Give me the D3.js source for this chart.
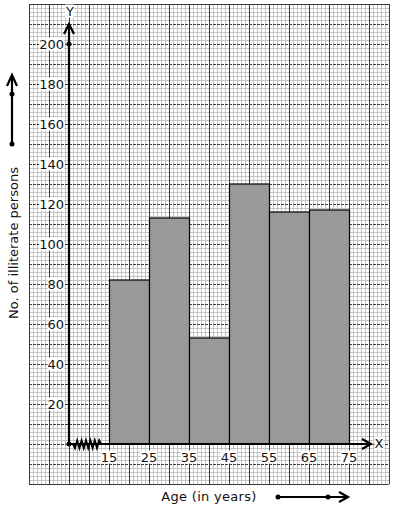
<!DOCTYPE html>
<html lang="en">
<head>
  <meta charset="UTF-8" />
  <title>Histogram: illiterate persons by age</title>
  <style>
    body { margin: 0; background: #fff; }
    svg { display: block; font-family: "DejaVu Sans", sans-serif; }
  </style>
</head>
<body>
  <svg id="chart" width="394" height="510"></svg>

  <script src="https://d3js.org/d3.v7.min.js"></script>
  <script>
    // class intervals (age in years) and counts
    const ageStarts = [15, 25, 35, 45, 55, 65];
    const ageEnds = [25, 35, 45, 55, 65, 75];
    const counts = [82, 113, 53, 130, 116, 117];
    const xTicks = [15, 25, 35, 45, 55, 65, 75];
    const yTicks = [20, 40, 60, 80, 100, 120, 140, 160, 180, 200];

    const svg = d3.select("#chart");

    // origin sits at age 5 on the paper (axis is broken before 15)
    const x = d3.scaleLinear().domain([5, 75]).range([69, 349]);
    const y = d3.scaleLinear().domain([0, 200]).range([444, 44]);

    const gridLeft = 29, gridRight = 389, gridTop = 4, gridBottom = 484;

    // graph paper
    const paper = svg.append("g");
    for (let px = gridLeft; px <= gridRight; px += 4) {
      if ((px - gridLeft) % 20 === 0) continue;
      paper.append("line")
        .attr("x1", px + 0.5).attr("x2", px + 0.5)
        .attr("y1", gridTop).attr("y2", gridBottom)
        .attr("stroke", "#c4c4c4").attr("stroke-width", 1);
    }
    for (let py = gridTop; py <= gridBottom; py += 4) {
      if ((py - gridTop) % 20 === 0) continue;
      paper.append("line")
        .attr("x1", gridLeft).attr("x2", gridRight)
        .attr("y1", py + 0.5).attr("y2", py + 0.5)
        .attr("stroke", "#c4c4c4").attr("stroke-width", 1);
    }
    for (let px = gridLeft; px <= gridRight; px += 20) {
      paper.append("line")
        .attr("x1", px + 0.5).attr("x2", px + 0.5)
        .attr("y1", gridTop).attr("y2", gridBottom)
        .attr("stroke", "#3a3a3a").attr("stroke-width", 1);
    }
    for (let py = gridTop; py <= gridBottom; py += 20) {
      paper.append("line")
        .attr("x1", gridLeft).attr("x2", gridRight)
        .attr("y1", py + 0.5).attr("y2", py + 0.5)
        .attr("stroke", "#3a3a3a").attr("stroke-width", 1)
        .attr("stroke-dasharray", (py === gridTop || py === gridBottom) ? null : "3,1");
    }

    // bars
    svg.append("g").selectAll("rect")
      .data(counts)
      .join("rect")
      .attr("x", (d, i) => x(ageStarts[i]) + 0.5)
      .attr("y", d => y(d))
      .attr("width", (d, i) => x(ageEnds[i]) - x(ageStarts[i]))
      .attr("height", d => y(0) - y(d))
      .attr("fill", "#999999")
      .attr("stroke", "#000")
      .attr("stroke-width", 1.2);

    // axes
    const axes = svg.append("g").attr("stroke", "#000").attr("fill", "none").attr("stroke-width", 2.2);
    axes.append("line").attr("x1", x(5)).attr("x2", x(5)).attr("y1", 25).attr("y2", y(0));
    axes.append("path").attr("d", `M${x(5) - 5},34 L${x(5)},24 L${x(5) + 5},34`);
    axes.append("line").attr("x1", x(5)).attr("x2", 370).attr("y1", y(0)).attr("y2", y(0));
    axes.append("path").attr("d", `M362,439 L371,${y(0)} L362,449`);

    // axis break zigzag
    let zig = `M${x(5) + 4},${y(0)}`;
    for (let k = 0; k < 12; k++) {
      const zx = x(5) + 6 + k * 2.2;
      zig += ` L${zx},${y(0) + (k % 2 ? -3.5 : 4)}`;
    }
    zig += ` L${x(15) - 8},${y(0)}`;
    axes.append("path").attr("d", zig).attr("stroke-width", 2);

    svg.append("circle").attr("cx", x(5)).attr("cy", y(0)).attr("r", 2.5).attr("fill", "#000");
    svg.append("circle").attr("cx", x(5)).attr("cy", y(200)).attr("r", 2.5).attr("fill", "#000");

    // tick labels with white boxes
    function boxedText(g, tx, ty, str, anchor) {
      const t = g.append("text")
        .attr("x", tx).attr("y", ty)
        .attr("text-anchor", anchor)
        .attr("dominant-baseline", "central")
        .attr("font-size", 13)
        .attr("fill", "#111")
        .text(str);
      const b = t.node().getBBox();
      g.insert("rect", "text")
        .attr("x", b.x).attr("y", b.y + 1)
        .attr("width", b.width).attr("height", b.height - 2)
        .attr("fill", "#fff");
      return t;
    }

    yTicks.forEach(v => {
      boxedText(svg.append("g"), 64, y(v), String(v), "end");
    });
    xTicks.forEach(v => {
      boxedText(svg.append("g"), x(v), 457, String(v), "middle");
    });
    boxedText(svg.append("g"), 70, 11, "Y", "middle");
    boxedText(svg.append("g"), 379, y(0) - 1, "X", "middle");

    // axis titles
    svg.append("text")
      .attr("transform", "translate(13,243) rotate(-90)")
      .attr("text-anchor", "middle")
      .attr("dominant-baseline", "central")
      .attr("font-size", 13)
      .attr("fill", "#111")
      .text("No. of illiterate persons");

    svg.append("text")
      .attr("x", 209).attr("y", 496)
      .attr("text-anchor", "middle")
      .attr("dominant-baseline", "central")
      .attr("font-size", 13)
      .attr("letter-spacing", 0.3)
      .attr("fill", "#111")
      .text("Age (in years)");

    // decorative direction arrows
    const deco = svg.append("g").attr("stroke", "#000").attr("fill", "none").attr("stroke-width", 2.2);
    deco.append("line").attr("x1", 12).attr("x2", 12).attr("y1", 76).attr("y2", 144);
    deco.append("path").attr("d", "M7,86 L12,75 L17,86");
    svg.append("circle").attr("cx", 12).attr("cy", 144).attr("r", 2.5).attr("fill", "#000");
    svg.append("circle").attr("cx", 12).attr("cy", 94).attr("r", 2.5).attr("fill", "#000");

    deco.append("line").attr("x1", 278).attr("x2", 347).attr("y1", 497).attr("y2", 497);
    deco.append("path").attr("d", "M339,492 L348,497 L339,502");
    svg.append("circle").attr("cx", 278).attr("cy", 497).attr("r", 2.5).attr("fill", "#000");
    svg.append("circle").attr("cx", 328).attr("cy", 497).attr("r", 2.5).attr("fill", "#000");
  </script>
</body>
</html>
